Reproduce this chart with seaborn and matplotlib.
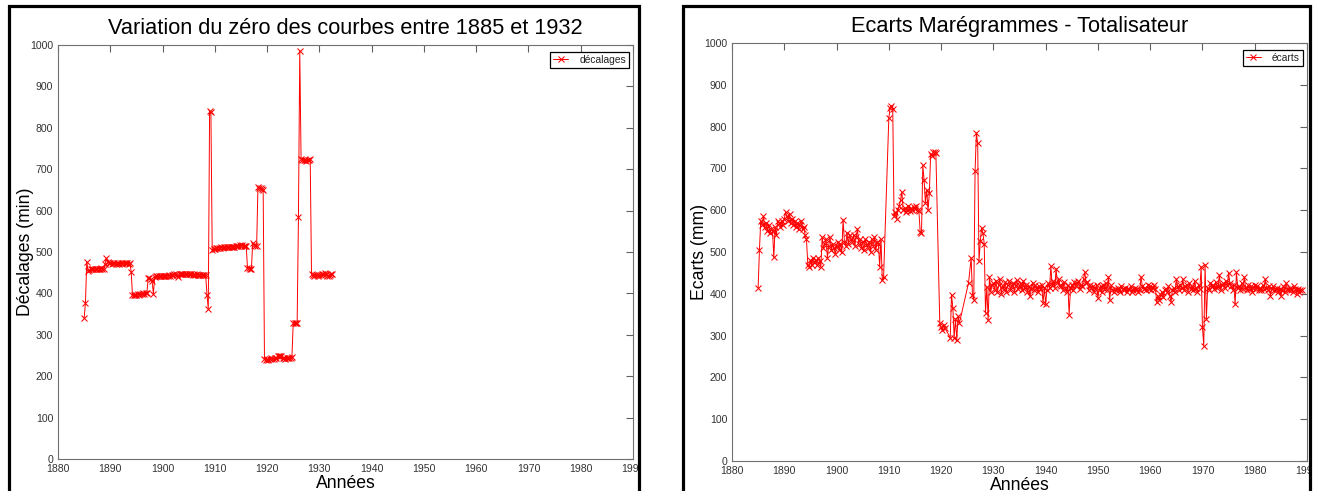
import numpy as np
import pandas as pd
import matplotlib
matplotlib.use("Agg")
import matplotlib.pyplot as plt
from matplotlib.patches import Rectangle
from matplotlib.font_manager import FontProperties
import seaborn as sns

# ---------------- data (quarterly readings) ----------------
start_left = 1885.0
start_right = 1885.0
step_years = 0.25

decalages = [
    340, 376, 477, 455,   # 1885
    456, 458, 460, 458,   # 1886
    460, 458, 460, 460,   # 1887
    460, 462, 460, 458,   # 1888
    472, 485, 476, 474,   # 1889
    474, 472, 473, 474,   # 1890
    472, 474, 473, 472,   # 1891
    473, 472, 474, 473,   # 1892
    474, 473, 472, 474,   # 1893
    452, 396, 395, 397,   # 1894
    397, 398, 397, 398,   # 1895
    399, 400, 398, 400,   # 1896
    400, 437, 436, 435,   # 1897
    430, 399, 440, 441,   # 1898
    442, 441, 442, 443,   # 1899
    442, 443, 442, 443,   # 1900
    443, 444, 443, 444,   # 1901
    445, 447, 446, 444,   # 1902
    440, 447, 446, 447,   # 1903
    448, 447, 446, 447,   # 1904
    446, 447, 446, 445,   # 1905
    446, 445, 446, 445,   # 1906
    445, 444, 445, 444,   # 1907
    445, 444, 396, 362,   # 1908
    840, 838, 505, 508,   # 1909
    508, 509, 510, 510,   # 1910
    510, 511, 510, 511,   # 1911
    511, 512, 511, 512,   # 1912
    512, 513, 512, 513,   # 1913
    514, 515, 514, 516,   # 1914
    515, 516, 514, 515,   # 1915
    515, 462, 461, 460,   # 1916
    460, 522, 518, 515,   # 1917
    514, 657, 655, 654,   # 1918
    652, 650, 241, 240,   # 1919
    241, 240, 242, 243,   # 1920
    242, 241, 244, 243,   # 1921
    248, 250, 249, 248,   # 1922
    244, 243, 242, 244,   # 1923
    243, 245, 244, 246,   # 1924
    329, 328, 329, 328,   # 1925
    585, 986, 725, 722,   # 1926
    722, 723, 721, 722,   # 1927
    723, 724, 446, 444,   # 1928
    443, 445, 444, 443,   # 1929
    444, 445, 446, 447,   # 1930
    450, 448, 443, 442,   # 1931
    444, 446, 448,        # 1932
]

nan = float("nan")
ecarts = [
    415, 505, 575, 565,   # 1885
    585, 560, 570, 550,   # 1886
    565, 545, 555, 550,   # 1887
    487, 560, 540, 575,   # 1888
    570, 560, 575, 565,   # 1889
    580, 595, 585, 575,   # 1890
    590, 570, 580, 565,   # 1891
    575, 560, 570, 555,   # 1892
    565, 575, 555, 560,   # 1893
    540, 530, 470, 465,   # 1894
    480, 470, 485, 475,   # 1895
    480, 470, 485, 478,   # 1896
    465, 535, 510, 520,   # 1897
    530, 486, 515, 535,   # 1898
    505, 520, 510, 495,   # 1899
    515, 525, 505, 520,   # 1900
    500, 577, 525, 515,   # 1901
    545, 520, 540, 530,   # 1902
    525, 540, 515, 535,   # 1903
    555, 520, 530, 510,   # 1904
    525, 505, 530, 520,   # 1905
    510, 525, 500, 530,   # 1906
    515, 535, 505, 525,   # 1907
    520, 465, 530, 433,   # 1908
    440, nan, nan, nan,   # 1909
    820, 845, 850, 843,   # 1910
    585, 595, 580, 600,   # 1911
    610, 625, 643, 600,   # 1912
    605, 595, 600, 610,   # 1913
    598, 605, 600, 608,   # 1914
    603, 610, 600, 598,   # 1915
    549, 545, 707, 673,   # 1916
    618, 649, 600, 640,   # 1917
    735, 730, 739, 740,   # 1918
    738, nan, nan, 331,   # 1919
    320, 314, 325, 318,   # 1920
    nan, nan, nan, 295,   # 1921
    398, 367, 295, 340,   # 1922
    290, 346, 330, nan,   # 1923
    nan, nan, nan, nan,   # 1924
    nan, 426, nan, 486,   # 1925
    398, 386, 693, 785,   # 1926
    760, 478, 526, 558,   # 1927
    546, 520, 354, 417,   # 1928
    338, 440, 405, 420,   # 1929
    425, 410, 430, 405,   # 1930
    420, 435, 400, 418,   # 1931
    412, 428, 405, 422,   # 1932
    430, 410, 418, 425,   # 1933
    405, 420, 432, 412,   # 1934
    418, 425, 408, 430,   # 1935
    415, 420, 405, 418,   # 1936
    394, 412, 425, 410,   # 1937
    420, 415, 405, 418,   # 1938
    412, 420, 378, 415,   # 1939
    375, 410, 425, 415,   # 1940
    466, 420, 430, 415,   # 1941
    460, 425, 435, 420,   # 1942
    418, 410, 428, 415,   # 1943
    405, 420, 350, 415,   # 1944
    420, 410, 428, 418,   # 1945
    425, 430, 412, 420,   # 1946
    418, 435, 452, 425,   # 1947
    428, 410, 420, 415,   # 1948
    418, 405, 412, 422,   # 1949
    390, 410, 418, 405,   # 1950
    420, 412, 425, 408,   # 1951
    440, 385, 420, 410,   # 1952
    405, 412, 408, 415,   # 1953
    410, 405, 418, 412,   # 1954
    408, 415, 405, 412,   # 1955
    412, 418, 405, 410,   # 1956
    415, 408, 412, 405,   # 1957
    410, 440, 418, 412,   # 1958
    415, 408, 420, 412,   # 1959
    418, 410, 415, 420,   # 1960
    412, 380, 395, 385,   # 1961
    398, 405, 392, 410,   # 1962
    412, 405, 418, 395,   # 1963
    380, 410, 415, 405,   # 1964
    435, 418, 410, 420,   # 1965
    415, 435, 410, 418,   # 1966
    420, 405, 425, 412,   # 1967
    418, 410, 430, 415,   # 1968
    405, 420, 412, 465,   # 1969
    320, 275, 470, 340,   # 1970
    415, 410, 425, 418,   # 1971
    420, 412, 428, 415,   # 1972
    418, 445, 410, 420,   # 1973
    425, 415, 430, 420,   # 1974
    450, 425, 418, 410,   # 1975
    420, 375, 452, 415,   # 1976
    418, 410, 425, 412,   # 1977
    440, 415, 408, 420,   # 1978
    412, 418, 405, 415,   # 1979
    420, 412, 418, 410,   # 1980
    415, 408, 420, 412,   # 1981
    435, 415, 410, 418,   # 1982
    395, 412, 418, 408,   # 1983
    410, 415, 405, 412,   # 1984
    395, 410, 418, 405,   # 1985
    425, 412, 408, 415,   # 1986
    410, 405, 418, 412,   # 1987
    400, 412, 405, 410,   # 1988
    408,                  # 1989
]

x_ticks = [1880, 1890, 1900, 1910, 1920, 1930, 1940, 1950, 1960, 1970, 1980, 1990]
y_ticks = [0, 100, 200, 300, 400, 500, 600, 700, 800, 900, 1000]
titles = ["Variation du zéro des courbes entre 1885 et 1932",
          "Ecarts Marégrammes - Totalisateur"]
ylabels = ["Décalages (min)", "Ecarts (mm)"]
xlabel_text = "Années"
legend_labels = ["décalages", "écarts"]

# ---------------- style ----------------
sns.set_theme(style="white")
plt.rcParams["font.family"] = ["Liberation Sans", "DejaVu Sans"]
small_font = ["Liberation Sans", "DejaVu Sans"]

W, H = 1317, 491
fig = plt.figure(figsize=(W / 100, H / 100), dpi=100)
fig.patch.set_facecolor("white")


def px_axes(l, r, t, b):
    return [l / W, 1 - b / H, (r - l) / W, (b - t) / H]


ax1 = fig.add_axes(px_axes(58, 633, 45, 459))
ax2 = fig.add_axes(px_axes(732, 1307, 43, 461))


def draw(ax, start, values, label, title, ylabel):
    years = start + step_years * np.arange(len(values))
    df = pd.DataFrame({"annee": years, "valeur": values}).dropna()
    sns.lineplot(data=df, x="annee", y="valeur", ax=ax, color="#ff0000",
                 linewidth=0.7, marker="x", markersize=4.2,
                 markeredgecolor="#ff0000", markeredgewidth=0.75,
                 label=label, sort=False, estimator=None)
    ax.set_xlim(1880, 1990)
    ax.set_ylim(0, 1000)
    ax.set_xticks(x_ticks)
    ax.set_yticks(y_ticks)
    ax.tick_params(direction="in", length=5, width=0.8, color="#606060",
                   top=True, right=True, labelcolor="#333333", pad=3.5,
                   labelsize=7.6)
    for sp in ax.spines.values():
        sp.set_color("#707070")
        sp.set_linewidth(0.8)
    ax.set_title(title, fontsize=15.7, pad=8.2, color="black")
    ax.set_xlabel(xlabel_text, fontsize=12.7, labelpad=0.5, color="black")
    ax.set_ylabel(ylabel, fontsize=12.7, labelpad=-3, color="black")
    ax.grid(False)
    ax.set_facecolor("white")
    w_px = ax.get_position().width * W
    h_px = ax.get_position().height * H
    leg = ax.legend(loc="upper right",
                    bbox_to_anchor=(1 - 4 / w_px, 1 - 7 / h_px),
                    borderaxespad=0, frameon=True, fancybox=False,
                    edgecolor="black", framealpha=1,
                    prop=FontProperties(family=small_font, size=7.4),
                    handlelength=1.4, handletextpad=1.1, borderpad=0.3,
                    numpoints=1)
    leg.get_frame().set_linewidth(0.9)
    for t in leg.get_texts():
        t.set_color("#222222")


draw(ax1, start_left, decalages, legend_labels[0], titles[0], ylabels[0])
draw(ax2, start_right, ecarts, legend_labels[1], titles[1], ylabels[1])

# white gaps outside panel frames (clip overflowing labels)
fig.add_artist(Rectangle((640.5 / W, 0), (681.5 - 640.5) / W, 1,
                         transform=fig.transFigure, facecolor="white",
                         edgecolor="none", zorder=9))
fig.add_artist(Rectangle((1311.5 / W, 0), (W - 1311.5) / W, 1,
                         transform=fig.transFigure, facecolor="white",
                         edgecolor="none", zorder=9))
# panel frames
for l, r in [(8.5, 638.8), (683.0, 1310.0)]:
    fig.add_artist(Rectangle((l / W, -0.1), (r - l) / W, 1.1 - 6 / H,
                             transform=fig.transFigure, fill=False,
                             edgecolor="black", linewidth=2.3, zorder=10,
                             clip_on=False))

fig.savefig("out.png", dpi=100, facecolor="white")
